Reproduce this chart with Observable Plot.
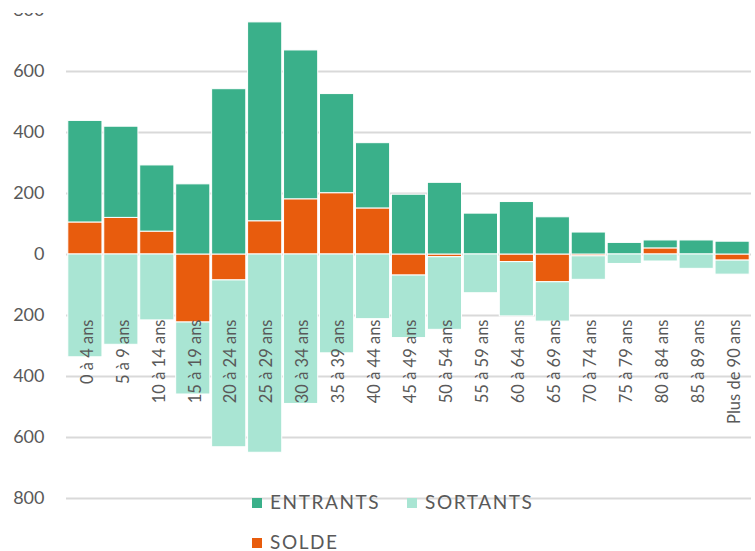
<!DOCTYPE html>
<html><head><meta charset="utf-8">
<script src="https://cdn.jsdelivr.net/npm/d3@7"></script>
<script src="https://cdn.jsdelivr.net/npm/@observablehq/plot@0.6"></script>
<style>
body{margin:0;background:#fff;font-family:Lato, "Open Sans", sans-serif;overflow:hidden;}
#wrap{position:absolute;left:0;top:13px;width:755px;height:520px;overflow:hidden;}
#wrap svg{display:block;margin-top:-13px;}
.lg{position:absolute;font-family:Lato,sans-serif;font-size:19px;line-height:19px;color:#595959;letter-spacing:1.6px;white-space:nowrap;}
.sw{position:absolute;width:10px;height:10px;}
</style></head><body>
<div id="wrap"></div>
<div id="legend"></div>
<script>
const categories = ["0 à 4 ans","5 à 9 ans","10 à 14 ans","15 à 19 ans","20 à 24 ans","25 à 29 ans","30 à 34 ans","35 à 39 ans","40 à 44 ans","45 à 49 ans","50 à 54 ans","55 à 59 ans","60 à 64 ans","65 à 69 ans","70 à 74 ans","75 à 79 ans","80 à 84 ans","85 à 89 ans","Plus de 90 ans"];
// segment heights as drawn (stacked: SOLDE next to zero, then ENTRANTS above / SORTANTS below)
const entrants = [333,299,217,230,542,652,488,325,214,196,235,134,172,122,72,38,26,46,42];
const sortants = [337,296,216,236,547,650,490,324,212,205,238,127,178,129,77,31,23,47,46];
const solde    = [105,120,75,-223,-85,109,181,201,151,-69,-9,0,-25,-91,-6,0,20,0,-20];
const seriesNames = ["ENTRANTS","SORTANTS","SOLDE"];
const stackOrder = ["SOLDE","ENTRANTS","SORTANTS"];
const seriesColors = ["#3AB08A","#A9E5D3","#E85C0D"];
const yTicks = [-800,-600,-400,-200,0,200,400,600,800];

const rows = [];
categories.forEach((c,i)=>{
  rows.push({cat:c, serie:"SOLDE", value:solde[i]});
  rows.push({cat:c, serie:"ENTRANTS", value:entrants[i]});
  rows.push({cat:c, serie:"SORTANTS", value:-sortants[i]});
});

const chart = Plot.plot({
  width:755, height:508,
  marginTop:10, marginBottom:10, marginLeft:66, marginRight:4,
  style:{fontFamily:"Lato, sans-serif", background:"transparent"},
  x:{domain:categories, padding:0.05, round:false, axis:null},
  y:{domain:[-800,800], axis:null},
  color:{domain:seriesNames, range:seriesColors},
  marks:[
    Plot.gridY(yTicks, {stroke:"#d9d9d9", strokeOpacity:1, strokeWidth:2}),
    Plot.axisY(yTicks, {tickSize:0, tickPadding:22, tickFormat:d=>Math.abs(d), fontSize:18, fill:"#595959", label:null}),
    Plot.barY(rows, Plot.stackY({order:stackOrder}, {x:"cat", y:"value", z:"serie", fill:"serie", stroke:"#ffffff", strokeWidth:1})),
    Plot.text(categories, {x:d=>d, y:0, dy:65, dx:2, rotate:-90, textAnchor:"end", fontSize:16.5, fill:"#595959"})
  ]
});
document.getElementById("wrap").appendChild(chart);

// legend
const lg = document.getElementById("legend");
const legendPos = [[252,492],[407,492],[252,532]];
seriesNames.forEach((n,i)=>{
  const [lx,ly] = legendPos[i];
  const sw = document.createElement("div");
  sw.className="sw"; sw.style.left=lx+"px"; sw.style.top=(ly+6)+"px"; sw.style.background=seriesColors[i];
  lg.appendChild(sw);
  const t = document.createElement("div");
  t.className="lg"; t.style.left=(lx+18)+"px"; t.style.top=ly+"px"; t.textContent=n;
  lg.appendChild(t);
});
</script>
</body></html>
